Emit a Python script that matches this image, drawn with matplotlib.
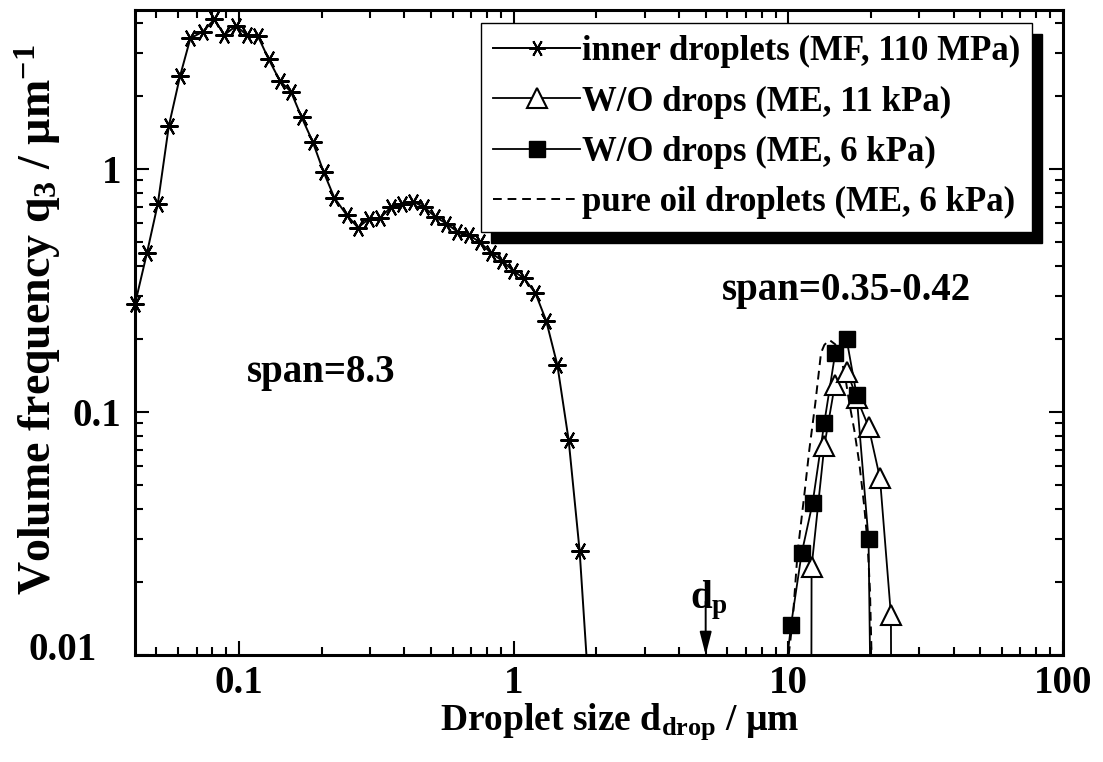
import matplotlib
matplotlib.use('Agg')
import matplotlib.pyplot as plt
from matplotlib.lines import Line2D
from matplotlib import ticker

# ---------------- data ----------------
inner_x = [0.0418, 0.0462, 0.0506, 0.0555, 0.0610, 0.0665, 0.0738, 0.0813, 0.0884,
           0.0975, 0.1067, 0.1170, 0.1282, 0.1410, 0.1545, 0.1690, 0.1854, 0.2032,
           0.2221, 0.2464, 0.2709, 0.2970, 0.3257, 0.3570, 0.3915, 0.4303, 0.4718,
           0.5191, 0.5692, 0.6241, 0.6860, 0.7553, 0.8249, 0.9066, 0.9941, 1.090,
           1.199, 1.313, 1.442, 1.585, 1.738]
inner_y = [0.278, 0.451, 0.718, 1.503, 2.414, 3.45, 3.67, 4.13, 3.56,
           3.88, 3.56, 3.53, 2.83, 2.30, 2.08, 1.632, 1.295, 0.972,
           0.763, 0.647, 0.574, 0.623, 0.627, 0.696, 0.718, 0.734, 0.696,
           0.635, 0.596, 0.552, 0.535, 0.499, 0.452, 0.420, 0.3815, 0.355,
           0.309, 0.2375, 0.156, 0.0767, 0.0268]
inner_end_x = [1.84]
inner_end_y = [0.01]

wo11_x = [12.15, 13.52, 14.76, 16.39, 17.75, 19.59, 21.56, 23.63]
wo11_y = [0.0230, 0.0725, 0.129, 0.146, 0.114, 0.087, 0.0534, 0.0146]
wo11_start = (12.12, 0.005)
wo11_end = (23.70, 0.005)

wo6_x = [10.23, 11.18, 12.26, 13.52, 14.82, 16.29, 17.72, 19.59]
wo6_y = [0.0133, 0.0262, 0.0423, 0.0904, 0.1754, 0.1998, 0.1175, 0.0299]
wo6_start = (9.94, 0.01)
wo6_end = (19.83, 0.01)

oil_x = [10.03, 10.37, 10.81, 11.43, 11.92, 12.54, 13.15, 13.52, 14.10, 14.80,
         15.50, 16.10, 16.67, 17.38, 18.13, 18.90, 19.43, 19.82, 20.09]
oil_y = [0.010, 0.0139, 0.0266, 0.0455, 0.0698, 0.1089, 0.175, 0.1887, 0.198, 0.190,
         0.170, 0.140, 0.109, 0.0843, 0.0615, 0.0408, 0.0288, 0.0185, 0.010]

dp = 5.0

labels = ['inner droplets (MF, 110 MPa)', 'W/O drops (ME, 11 kPa)',
          'W/O drops (ME, 6 kPa)', 'pure oil droplets (ME, 6 kPa)']
xticks = [0.1, 1, 10, 100]
yticks = [0.01, 0.1, 1]

# ---------------- style ----------------
plt.rcParams.update({
    'font.family': ['Liberation Serif', 'DejaVu Serif'],
    'font.weight': 'bold',
    'axes.labelweight': 'bold',
    'mathtext.fontset': 'custom',
    'mathtext.rm': 'Liberation Serif:bold',
    'mathtext.it': 'Liberation Serif:bold',
    'mathtext.bf': 'Liberation Serif:bold',
    'mathtext.default': 'regular',
})

W, H = 1103, 762
fig = plt.figure(figsize=(W / 100, H / 100), dpi=100)
ax = fig.add_axes([135 / W, 107 / H, 928 / W, 645 / H])
ax.set_xscale('log')
ax.set_yscale('log')
ax.set_xlim(0.0418, 100)
ax.set_ylim(0.01, 4.51)

star = (6, 2, 90)
# inner droplets
ax.plot(inner_x + inner_end_x, inner_y + inner_end_y, '-', color='k', lw=1.4, zorder=3)
ax.plot(inner_x, inner_y, ls='none', marker=star, ms=13, mew=1.5, color='k',
        clip_on=False, zorder=4)

# W/O 11 kPa
ax.plot([wo11_start[0]] + wo11_x + [wo11_end[0]], [wo11_start[1]] + wo11_y + [wo11_end[1]],
        '-', color='k', lw=1.3, zorder=3)
ax.plot(wo11_x, wo11_y, ls='none', marker='^', ms=14, mew=1.5, mfc='white', mec='k',
        zorder=5)

# W/O 6 kPa
ax.plot([wo6_start[0]] + wo6_x + [wo6_end[0]], [wo6_start[1]] + wo6_y + [wo6_end[1]],
        '-', color='k', lw=1.3, zorder=3)
ax.plot(wo6_x, wo6_y, ls='none', marker='s', ms=12, mew=1, mfc='k', mec='k', zorder=6)

# pure oil
ax.plot(oil_x, oil_y, color='k', lw=1.4, dashes=(4.5, 3), zorder=3)

# axes styling
for s in ax.spines.values():
    s.set_linewidth(2.2)
ax.tick_params(which='both', direction='in', top=True, right=True, width=1.5,
               labelsize=28)
ax.tick_params(which='major', length=10)
ax.tick_params(which='minor', length=5.5)
ax.tick_params(axis='x', which='major', pad=7)
ax.tick_params(axis='y', which='major', pad=10)
ax.set_xticks(xticks)
ax.set_yticks(yticks)
fmt = ticker.FuncFormatter(lambda v, p: '' if v == yticks[0] and p == 0 and False else f'{v:g}')
ax.xaxis.set_major_formatter(ticker.FuncFormatter(lambda v, p: f'{v:g}'))
# the lowest y label is drawn separately (shifted left, as in the reference)
ax.yaxis.set_major_formatter(ticker.FuncFormatter(
    lambda v, p: '' if abs(v - yticks[0]) < 1e-9 else f'{v:g}'))
ax.xaxis.set_minor_formatter(ticker.NullFormatter())
ax.yaxis.set_minor_formatter(ticker.NullFormatter())
ax.text(97 / W, (762 - 650) / H, f'{yticks[0]:g}', transform=fig.transFigure,
        fontsize=28, ha='right', va='center')

ax.set_xlabel('Droplet size d$_{drop}$ / µm', fontsize=27)
ax.set_ylabel('Volume frequency q$_3$ / µm$^{-1}$', fontsize=33)
ax.xaxis.set_label_coords(0.522, -0.072)
ax.yaxis.set_label_coords(-0.078, 0.52)

# annotations
ax.text(0.1207, 0.4233, 'span=8.3', transform=ax.transAxes, fontsize=28,
        ha='left', va='baseline')
ax.text(0.6325, 0.5504, 'span=0.35-0.42', transform=ax.transAxes, fontsize=28,
        ha='left', va='baseline')
ax.text(0.598, 0.0729, 'd$_p$', transform=ax.transAxes, fontsize=28,
        ha='left', va='baseline')
ax.annotate('', xy=(dp, 0.01), xytext=(dp, 0.0166),
            arrowprops=dict(arrowstyle='-|>,head_length=0.7,head_width=0.18',
                            mutation_scale=20, lw=1.4, color='k',
                            shrinkA=0, shrinkB=0))

# legend
handles = [
    Line2D([], [], color='k', lw=1.4, marker=star, ms=12, mew=1.4),
    Line2D([], [], color='k', lw=1.3, marker='^', ms=14, mew=1.5, mfc='white', mec='k'),
    Line2D([], [], color='k', lw=1.3, marker='s', ms=12, mfc='k', mec='k'),
    Line2D([], [], color='k', lw=1.4, dashes=(4.5, 3)),
]
leg = ax.legend(handles, labels, loc='upper left', bbox_to_anchor=(0.3728, 0.9798),
                borderaxespad=0, fontsize=25, frameon=True, fancybox=False,
                edgecolor='k', framealpha=1, numpoints=1,
                handlelength=2.5, handletextpad=0.05, borderpad=0.35,
                labelspacing=0.5,
                shadow={'ox': 7.2, 'oy': -7.9, 'facecolor': 'k', 'edgecolor': 'k',
                        'alpha': 1})
leg.get_frame().set_linewidth(1.0)
leg.set_zorder(10)

fig.savefig('out.png', dpi=100)
